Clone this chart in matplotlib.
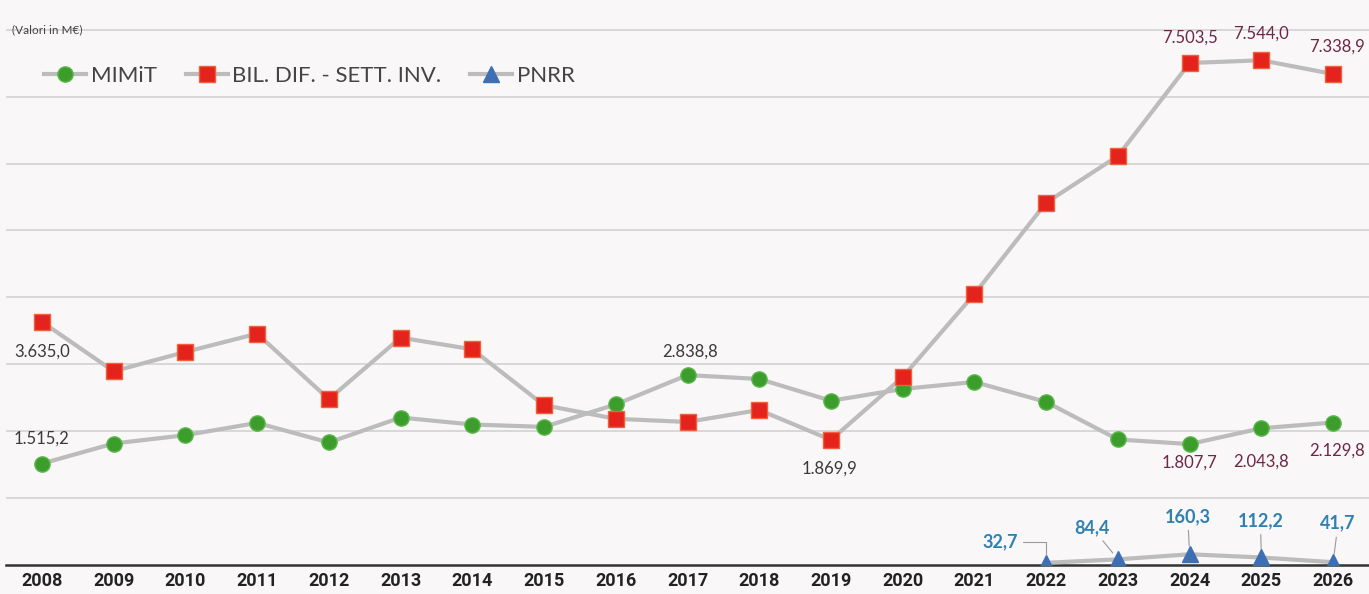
import matplotlib.pyplot as plt

# dati (Valori in M€)
years = list(range(2008, 2027))
mimit = [1515.2, 1816, 1940, 2124, 1831, 2204, 2100, 2064, 2400, 2838.8,
         2780, 2455, 2631, 2736, 2437, 1876, 1807.7, 2043.8, 2129.8]
bil_dif = [3635.0, 2896, 3184, 3458, 2478, 3398, 3224, 2388, 2185, 2138,
           2317, 1869.9, 2810, 4051, 5416, 6114, 7503.5, 7544.0, 7338.9]
pnrr_years = [2022, 2023, 2024, 2025, 2026]
pnrr = [32.7, 84.4, 160.3, 112.2, 41.7]

# etichette mostrate nel grafico
mimit_labels = {2008: '1.515,2', 2017: '2.838,8', 2024: '1.807,7', 2025: '2.043,8', 2026: '2.129,8'}
bil_labels = {2008: '3.635,0', 2019: '1.869,9', 2024: '7.503,5', 2025: '7.544,0', 2026: '7.338,9'}
pnrr_labels = ['32,7', '84,4', '160,3', '112,2', '41,7']

plt.rcParams['font.family'] = ['Lato', 'DejaVu Sans']

bg = '#f9f7f7'
fig = plt.figure(figsize=(13.69, 5.94), dpi=100, facecolor=bg)
ax = fig.add_axes([6 / 1369, 29 / 594, 1 - 6 / 1369, 565 / 594])
ax.set_facecolor(bg)

line_col = '#bcbcbc'
ax.plot(years, mimit, color=line_col, lw=3, marker='o', ms=11,
        mfc='#3c9d2c', mec='#5ab84a', mew=1, label='MIMiT', zorder=3)
ax.plot(years, bil_dif, color=line_col, lw=3, marker='s', ms=11,
        mfc='#e5231d', mec='#f0603a', mew=1, label='BIL. DIF. - SETT. INV.', zorder=3)
ax.plot(pnrr_years, pnrr, color=line_col, lw=3, marker='^', ms=12,
        mfc='#3e6fb2', mec='#3e6fb2', label='PNRR', zorder=4)

ax.set_xlim(2007.5, 2026.5)
ax.set_ylim(0, 8445)
ax.set_yticks(range(1000, 9000, 1000))
ax.yaxis.grid(True, color='#d2d2d2', lw=1.2)
ax.set_axisbelow(True)
ax.tick_params(axis='y', left=False, labelleft=False)
ax.set_xticks(years)
ax.set_xticklabels([str(y) for y in years], fontweight='bold', fontsize=13,
                   family=['Roboto', 'DejaVu Sans'], color='#222222')
ax.tick_params(axis='x', length=0, pad=5)
for s in ['top', 'right', 'left']:
    ax.spines[s].set_visible(False)
ax.spines['bottom'].set_color('#333333')
ax.spines['bottom'].set_linewidth(1.8)

dark = '#3a3a3a'
maroon = '#6e2745'

# etichette MIMiT (offset in pixel)
mimit_off = {2008: (0, 25), 2017: (3, 23), 2024: (0, -19), 2025: (0, -33), 2026: (4, -28)}
for y, txt in mimit_labels.items():
    v = mimit[years.index(y)]
    c = maroon if y >= 2024 else dark
    ax.annotate(txt, (y, v), xytext=mimit_off[y], textcoords='offset pixels',
                ha='center', va='center', fontsize=12, color=c)

bil_off = {2008: (0, -30), 2019: (-2, -29), 2024: (0, 25), 2025: (0, 27), 2026: (4, 27)}
for y, txt in bil_labels.items():
    v = bil_dif[years.index(y)]
    c = maroon if y >= 2024 else dark
    ax.annotate(txt, (y, v), xytext=bil_off[y], textcoords='offset pixels',
                ha='center', va='center', fontsize=12, color=c)

pnrr_off = [(-46, 21), (-26, 32), (-2, 38), (-1, 37), (5, 39)]
for i, (y, v, txt, off) in enumerate(zip(pnrr_years, pnrr, pnrr_labels, pnrr_off)):
    conn = 'angle,angleA=0,angleB=90,rad=0' if i == 0 else 'arc3'
    ax.annotate(txt, (y, v), xytext=off, textcoords='offset pixels',
                ha='center', va='center', fontsize=13, fontweight='bold', color='#2f80b3',
                arrowprops=dict(arrowstyle='-', color='#9a9a9a', lw=0.8,
                                shrinkA=2, shrinkB=6, connectionstyle=conn))

fig.legend(*ax.get_legend_handles_labels(), loc='center left',
           bbox_to_anchor=(44 / 1369, 1 - 76 / 594), ncol=3, frameon=False,
           fontsize=16, handlelength=1.9, columnspacing=1.3, handletextpad=0.2,
           borderpad=0, borderaxespad=0, labelcolor='#444444')

fig.text(12 / 1369, 1 - 30 / 594, '(Valori in M€)', fontsize=8.5, color='#444444',
         ha='left', va='center')

fig.savefig('out.png', dpi=100, facecolor=bg)
